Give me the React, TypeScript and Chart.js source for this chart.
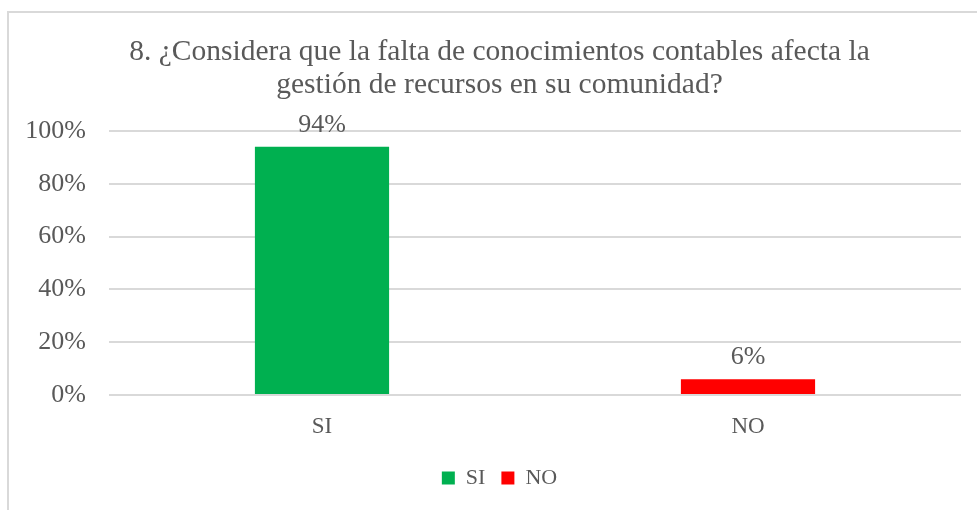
import React, { useEffect, useRef } from "react";
import { Chart, registerables } from "chart.js";

Chart.register(...registerables);

const categories = ["SI", "NO"];
const values = [94, 6];
const barColors = ["#00B050", "#FF0000"];
const yTickStep = 20;
const yMax = 100;
const titleLines = [
  "8. ¿Considera que la falta de conocimientos contables afecta la",
  "gestión de recursos en su comunidad?",
];

const FONT = "'Liberation Serif', serif";
const TEXT = "#595959";
const GRID = "#d9d9d9";
const CANVAS_W = 999;
const CANVAS_H = 510;

const valueLabels = {
  id: "valueLabels",
  afterDatasetsDraw(chart: any) {
    const ctx = chart.ctx;
    const meta = chart.getDatasetMeta(0);
    ctx.save();
    ctx.font = `26px ${FONT}`;
    ctx.fillStyle = TEXT;
    ctx.textAlign = "center";
    ctx.textBaseline = "middle";
    meta.data.forEach((el: any, i: number) => {
      ctx.fillText(values[i] + "%", el.x, el.y - 22);
    });
    ctx.restore();
  },
};

export default function App() {
  const ref = useRef<HTMLCanvasElement>(null);

  useEffect(() => {
    document.body.style.margin = "0";
    const canvas = ref.current!;
    const chart = new Chart(canvas, {
      type: "bar",
      data: {
        labels: categories,
        datasets: [
          {
            data: values,
            backgroundColor: barColors,
            borderWidth: 0,
            barPercentage: 0.315,
            categoryPercentage: 1,
          },
        ],
      },
      options: {
        responsive: false,
        animation: false,
        devicePixelRatio: 1,
        layout: { padding: { left: 0, right: 0, top: 0, bottom: 11 } },
        scales: {
          y: {
            min: 0,
            max: yMax,
            ticks: {
              stepSize: yTickStep,
              padding: 23,
              color: TEXT,
              font: { family: FONT, size: 26 },
              callback: (v: any) => v + "%",
            },
            grid: { color: GRID, lineWidth: 2, drawTicks: false },
            border: { display: false },
            afterFit: (s: any) => {
              s.width = 109;
            },
          },
          yRight: {
            position: "right",
            min: 0,
            max: yMax,
            ticks: { display: false },
            grid: { display: false, drawTicks: false },
            border: { display: false },
            afterFit: (s: any) => {
              s.width = CANVAS_W - 961;
            },
          },
          x: {
            ticks: {
              padding: 18,
              color: TEXT,
              font: { family: FONT, size: 23 },
            },
            grid: { display: false, drawTicks: false },
            border: { display: false },
            afterFit: (s: any) => {
              s.height = 56;
            },
          },
        },
        plugins: {
          title: {
            display: true,
            text: titleLines,
            color: TEXT,
            font: { family: FONT, size: 29.5, weight: "normal", lineHeight: 33 / 29.5 },
            padding: { top: 35.5, bottom: 29.5 },
          },
          legend: {
            position: "bottom",
            labels: {
              boxWidth: 13,
              boxHeight: 13,
              padding: 16,
              color: TEXT,
              font: { family: FONT, size: 22 },
              generateLabels: () =>
                categories.map((c, i) => ({
                  text: c,
                  fillStyle: barColors[i],
                  strokeStyle: barColors[i],
                  lineWidth: 0,
                  fontColor: TEXT,
                  hidden: false,
                  index: i,
                  datasetIndex: 0,
                })),
            },
          },
          tooltip: { enabled: false },
        },
      },
      plugins: [valueLabels],
    });
    return () => chart.destroy();
  }, []);

  return (
    <div style={{ position: "relative", width: 977, height: 510, overflow: "hidden", background: "#fff" }}>
      <div
        style={{
          position: "absolute",
          left: 7,
          top: 11,
          width: 1000,
          height: 520,
          border: `2px solid ${GRID}`,
        }}
      />
      <canvas ref={ref} width={CANVAS_W} height={CANVAS_H} style={{ position: "absolute", left: 0, top: 0 }} />
    </div>
  );
}
